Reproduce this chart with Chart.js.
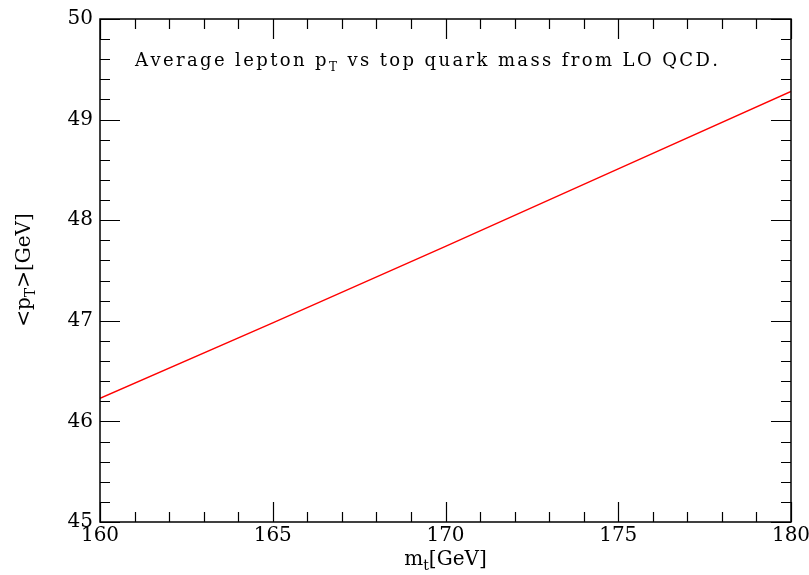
<!DOCTYPE html>
<html>
<head>
<meta charset="utf-8">
<script src="https://cdn.jsdelivr.net/npm/chart.js@4.4.1/dist/chart.umd.min.js"></script>
<style>
  html, body { margin: 0; padding: 0; background: #ffffff; }
  #wrap { width: 809px; height: 575px; }
</style>
</head>
<body>
<div id="wrap"><canvas id="c" width="809" height="575"></canvas></div>
<script>
// ---- data ----
const topMass = [160, 165, 170, 175, 180];            // m_t [GeV]
const avgLeptonPt = [46.23, 46.98, 47.74, 48.51, 49.28]; // <p_T> [GeV]
const xTickValues = [160, 165, 170, 175, 180];
const yTickValues = [45, 46, 47, 48, 49, 50];

const titleMain = 'Average lepton p';
const titleSub = 'T';
const titleRest = ' vs top quark mass from LO QCD.';
const xLabelMain = 'm', xLabelSub = 't', xLabelRest = '[GeV]';
const yLabelA = '<p', yLabelSub = 'T', yLabelRest = '>[GeV]';

const FONT = '"DejaVu Serif", "Liberation Serif", serif';

function drawSubText(ctx, parts, x, y, size, subSize, subDrop, spacing) {
  let cx = x;
  for (const [t, sub] of parts) {
    ctx.font = (sub ? subSize : size) + 'px ' + FONT;
    if (spacing) {
      for (const ch of t) {
        ctx.fillText(ch, cx, sub ? y + subDrop : y);
        cx += ctx.measureText(ch).width + spacing;
      }
    } else {
      ctx.fillText(t, cx, sub ? y + subDrop : y);
      cx += ctx.measureText(t).width;
    }
  }
  return cx - x;
}
function measureSubText(ctx, parts, size, subSize) {
  let w = 0, n = 0;
  for (const [t, sub] of parts) {
    ctx.font = (sub ? subSize : size) + 'px ' + FONT;
    for (const ch of t) { w += ctx.measureText(ch).width; n++; }
  }
  return { w, n };
}

const framePlugin = {
  id: 'frame',
  afterDatasetsDraw(chart) {
    const ctx = chart.ctx;
    const xs = chart.scales.x, ys = chart.scales.y;
    const a = chart.chartArea;
    ctx.save();
    ctx.strokeStyle = '#000';
    ctx.lineWidth = 1.5;
    ctx.strokeRect(a.left, a.top, a.right - a.left, a.bottom - a.top);
    ctx.lineWidth = 1.2;
    ctx.beginPath();
    for (let v = xs.min; v <= xs.max + 1e-9; v += 1) {
      const px = Math.round(xs.getPixelForValue(v)) + 0.5;
      const major = Math.abs(v / 5 - Math.round(v / 5)) < 1e-6;
      const len = major ? 20 : 10;
      ctx.moveTo(px, a.bottom); ctx.lineTo(px, a.bottom - len);
      ctx.moveTo(px, a.top); ctx.lineTo(px, a.top + len);
    }
    for (let i = 0; i <= Math.round((ys.max - ys.min) / 0.2); i++) {
      const v = ys.min + i * 0.2;
      const py = Math.round(ys.getPixelForValue(v)) + 0.5;
      const major = i % 5 === 0;
      const len = major ? 20 : 10;
      ctx.moveTo(a.left, py); ctx.lineTo(a.left + len, py);
      ctx.moveTo(a.right, py); ctx.lineTo(a.right - len, py);
    }
    ctx.stroke();

    ctx.fillStyle = '#000';
    ctx.textBaseline = 'alphabetic';
    ctx.textAlign = 'left';
    const tParts = [[titleMain, false], [titleSub, true], [titleRest, false]];
    const tm = measureSubText(ctx, tParts, 18, 12);
    const spacing = Math.max(0, (583 - tm.w) / (tm.n - 1));
    drawSubText(ctx, tParts, 135, 66, 18, 12, 5, spacing);

    const xParts = [[xLabelMain, false], [xLabelSub, true], [xLabelRest, false]];
    const xw = measureSubText(ctx, xParts, 20, 14).w;
    drawSubText(ctx, xParts, (a.left + a.right) / 2 - xw / 2, 565, 20, 14, 5, 0);

    const yParts = [[yLabelA, false], [yLabelSub, true], [yLabelRest, false]];
    const yw = measureSubText(ctx, yParts, 20, 14).w;
    ctx.translate(30, 270);
    ctx.rotate(-Math.PI / 2);
    drawSubText(ctx, yParts, -yw / 2, 0, 20, 14, 5, 0);
    ctx.restore();
  }
};

new Chart(document.getElementById('c'), {
  type: 'scatter',
  data: {
    datasets: [{
      data: topMass.map((m, i) => ({ x: m, y: avgLeptonPt[i] })),
      showLine: true,
      borderColor: '#ff0000',
      borderWidth: 1.4,
      pointRadius: 0,
      tension: 0,
      fill: false
    }]
  },
  options: {
    responsive: false,
    devicePixelRatio: 1,
    animation: false,
    events: [],
    layout: { padding: { top: 19, right: 18, left: 0, bottom: 0 } },
    plugins: { legend: { display: false }, tooltip: { enabled: false }, title: { display: false } },
    scales: {
      x: {
        type: 'linear', min: 160, max: 180,
        afterBuildTicks(s) { s.ticks = xTickValues.map(v => ({ value: v })); },
        afterFit(s) { s.height = 53; s.paddingLeft = 0; s.paddingRight = 0; },
        ticks: { color: '#000', font: { family: FONT, size: 20 }, padding: 2, maxRotation: 0, autoSkip: false },
        grid: { display: true, drawOnChartArea: false, drawTicks: false },
        border: { display: false }
      },
      y: {
        type: 'linear', min: 45, max: 50,
        afterBuildTicks(s) { s.ticks = yTickValues.map(v => ({ value: v })); },
        afterFit(s) { s.width = 100; s.paddingTop = 0; s.paddingBottom = 0; },
        ticks: { color: '#000', font: { family: FONT, size: 20 }, padding: 7, autoSkip: false },
        grid: { display: true, drawOnChartArea: false, drawTicks: false },
        border: { display: false }
      }
    }
  },
  plugins: [framePlugin]
});
</script>
</body>
</html>
